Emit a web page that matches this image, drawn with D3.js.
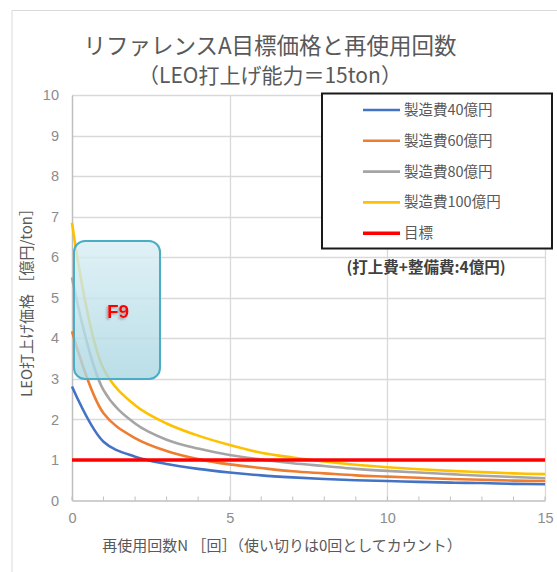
<!DOCTYPE html>
<html>
<head>
<meta charset="utf-8">
<script src="https://cdn.jsdelivr.net/npm/d3@7"></script>
<style>
  html, body { margin: 0; padding: 0; background: #fff; }
  svg { display: block; font-family: "Noto Sans CJK JP", "Noto Sans", sans-serif; }
</style>
</head>
<body>
<div id="chart"></div>
<script>
// Reuse count N (0 = expendable)
const reuseCounts = [0, 1, 2, 3, 4, 5, 6, 7, 8, 9, 10, 11, 12, 13, 14, 15];

// LEO launch price [億円/ton] per manufacturing cost
const cost40  = [2.81, 1.45, 1.08, 0.90, 0.78, 0.69, 0.62, 0.57, 0.53, 0.50, 0.48, 0.46, 0.44, 0.43, 0.41, 0.40];
const cost60  = [4.17, 2.15, 1.54, 1.22, 1.02, 0.89, 0.80, 0.72, 0.67, 0.62, 0.59, 0.56, 0.53, 0.51, 0.49, 0.48];
const cost80  = [5.50, 2.72, 1.90, 1.50, 1.28, 1.12, 1.01, 0.92, 0.85, 0.78, 0.73, 0.69, 0.65, 0.61, 0.58, 0.55];
const cost100 = [6.85, 3.25, 2.35, 1.90, 1.60, 1.37, 1.18, 1.06, 0.96, 0.88, 0.82, 0.77, 0.73, 0.70, 0.67, 0.65];
const targetPrice = 1;

const seriesNames  = ["製造費40億円", "製造費60億円", "製造費80億円", "製造費100億円"];
const seriesValues = [cost40, cost60, cost80, cost100];
const seriesColors = ["#4472C4", "#ED7D31", "#A5A5A5", "#FFC000"];
const targetName = "目標";
const targetColor = "#FF0000";

const yTicks = [0, 1, 2, 3, 4, 5, 6, 7, 8, 9, 10];
const xTicks = [0, 5, 10, 15];
const xMinorTicks = d3.range(0, 16);

const W = 557, H = 572;
const svg = d3.select("#chart").append("svg").attr("width", W).attr("height", H);

// outer chart-area border (top and left edges)
svg.append("path").attr("d", "M12,572 V10.5 H557")
  .attr("fill", "none").attr("stroke", "#d9d9d9").attr("stroke-width", 1);

const x = d3.scaleLinear().domain([0, 15]).range([72, 545]);
const y = d3.scaleLinear().domain([0, 10]).range([500.5, 95]);

// titles
svg.append("text").attr("x", 270).attr("y", 54).attr("text-anchor", "middle")
  .attr("font-size", 22.5).attr("fill", "#595959").text("リファレンスA目標価格と再使用回数");
svg.append("text").attr("x", 270).attr("y", 83).attr("text-anchor", "middle")
  .attr("font-size", 21).attr("fill", "#595959").text("（LEO打上げ能力＝15ton）");

// horizontal gridlines
svg.append("g").selectAll("line").data(yTicks.filter(d => d > 0)).join("line")
  .attr("x1", x(0)).attr("x2", x(15))
  .attr("y1", d => Math.round(y(d)) + 0.5).attr("y2", d => Math.round(y(d)) + 0.5)
  .attr("stroke", "#d9d9d9").attr("stroke-width", 1.3);

// vertical gridlines
svg.append("g").selectAll("line").data(xTicks.filter(d => d > 0)).join("line")
  .attr("x1", d => Math.round(x(d)) + 0.5).attr("x2", d => Math.round(x(d)) + 0.5)
  .attr("y1", y(10)).attr("y2", y(0))
  .attr("stroke", "#d9d9d9").attr("stroke-width", 1.3);

// axes
const xAxis = d3.axisBottom(x).tickValues(xTicks).tickSize(0).tickPadding(12);
const gx = svg.append("g").attr("transform", `translate(0,${y(0)})`).call(xAxis);
gx.select(".domain").attr("stroke", "#bfbfbf").attr("stroke-width", 1.5);
gx.selectAll("text").attr("font-size", 14.5).attr("fill", "#8c8c8c")
  .attr("font-family", "Liberation Sans, Arial, sans-serif");

// minor tick marks pointing into the plot
svg.append("g").selectAll("line").data(xMinorTicks).join("line")
  .attr("x1", d => x(d)).attr("x2", d => x(d))
  .attr("y1", y(0) - 4).attr("y2", y(0))
  .attr("stroke", "#bfbfbf").attr("stroke-width", 1);

const yAxis = d3.axisLeft(y).tickValues(yTicks).tickSize(0).tickPadding(13);
const gy = svg.append("g").attr("transform", `translate(${x(0)},0)`).call(yAxis);
gy.select(".domain").attr("stroke", "#bfbfbf").attr("stroke-width", 1.5);
gy.selectAll("text").attr("font-size", 14.5).attr("fill", "#8c8c8c")
  .attr("font-family", "Liberation Sans, Arial, sans-serif");

// axis titles
svg.append("text")
  .attr("transform", "translate(32,299) rotate(-90)")
  .attr("text-anchor", "middle").attr("font-size", 15).attr("fill", "#595959")
  .text("LEO打上げ価格 ［億円/ton］");
svg.append("text").attr("x", 282).attr("y", 551).attr("text-anchor", "middle")
  .attr("font-size", 15).attr("fill", "#595959")
  .text("再使用回数N ［回］（使い切りは0回としてカウント）");

// series curves
const line = d3.line()
  .x((d, i) => x(reuseCounts[i]))
  .y(d => y(d))
  .curve(d3.curveCatmullRom.alpha(0.5));

const gLines = svg.append("g");
seriesValues.forEach((vals, i) => {
  gLines.append("path").attr("d", line(vals))
    .attr("fill", "none").attr("stroke", seriesColors[i]).attr("stroke-width", 2.6);
});

// target line
gLines.append("line")
  .attr("x1", x(0)).attr("x2", x(15))
  .attr("y1", y(targetPrice)).attr("y2", y(targetPrice))
  .attr("stroke", targetColor).attr("stroke-width", 3.5);

// legend
const legend = svg.append("g");
legend.append("rect").attr("x", 322).attr("y", 93.5).attr("width", 230).attr("height", 155)
  .attr("fill", "#fff").attr("stroke", "#1a1a1a").attr("stroke-width", 2);
const legendNames = seriesNames.concat([targetName]);
const legendColors = seriesColors.concat([targetColor]);
legendNames.forEach((name, i) => {
  const cy = 110 + i * 30.8;
  legend.append("line").attr("x1", 363).attr("x2", 400).attr("y1", cy).attr("y2", cy)
    .attr("stroke", legendColors[i]).attr("stroke-width", i === 4 ? 3.5 : 2.6);
  legend.append("text").attr("x", 404).attr("y", cy).attr("dy", "0.35em")
    .attr("font-size", 14.5).attr("fill", "#595959").text(name);
});

// cost note
svg.append("text").attr("x", 426).attr("y", 268).attr("dy", "0.35em").attr("text-anchor", "middle")
  .attr("font-size", 15.5).attr("font-weight", "bold").attr("fill", "#404040")
  .text("(打上費+整備費:4億円)");

// F9 callout box
const defs = svg.append("defs");
const grad = defs.append("linearGradient").attr("id", "boxFill")
  .attr("x1", 0).attr("y1", 0).attr("x2", 0).attr("y2", 1);
grad.append("stop").attr("offset", "0%").attr("stop-color", "#d8eef4");
grad.append("stop").attr("offset", "100%").attr("stop-color", "#a9d6e2");
const shadow = defs.append("filter").attr("id", "txtShadow")
  .attr("x", "-20%").attr("y", "-20%").attr("width", "150%").attr("height", "150%");
shadow.append("feDropShadow").attr("dx", -1.5).attr("dy", 1.5).attr("stdDeviation", 0.8)
  .attr("flood-color", "#808080").attr("flood-opacity", 0.7);

svg.append("rect").attr("x", 74).attr("y", 241).attr("width", 86).attr("height", 138)
  .attr("rx", 11).attr("ry", 11)
  .attr("fill", "url(#boxFill)").attr("fill-opacity", 0.8)
  .attr("stroke", "#4bacc6").attr("stroke-width", 2);
svg.append("text").attr("x", 118).attr("y", 311).attr("dy", "0.35em").attr("text-anchor", "middle")
  .attr("font-size", 19).attr("font-weight", "bold").attr("fill", "#ff0000")
  .attr("font-family", "Liberation Sans, Arial, sans-serif")
  .attr("filter", "url(#txtShadow)").text("F9");
</script>
</body>
</html>
